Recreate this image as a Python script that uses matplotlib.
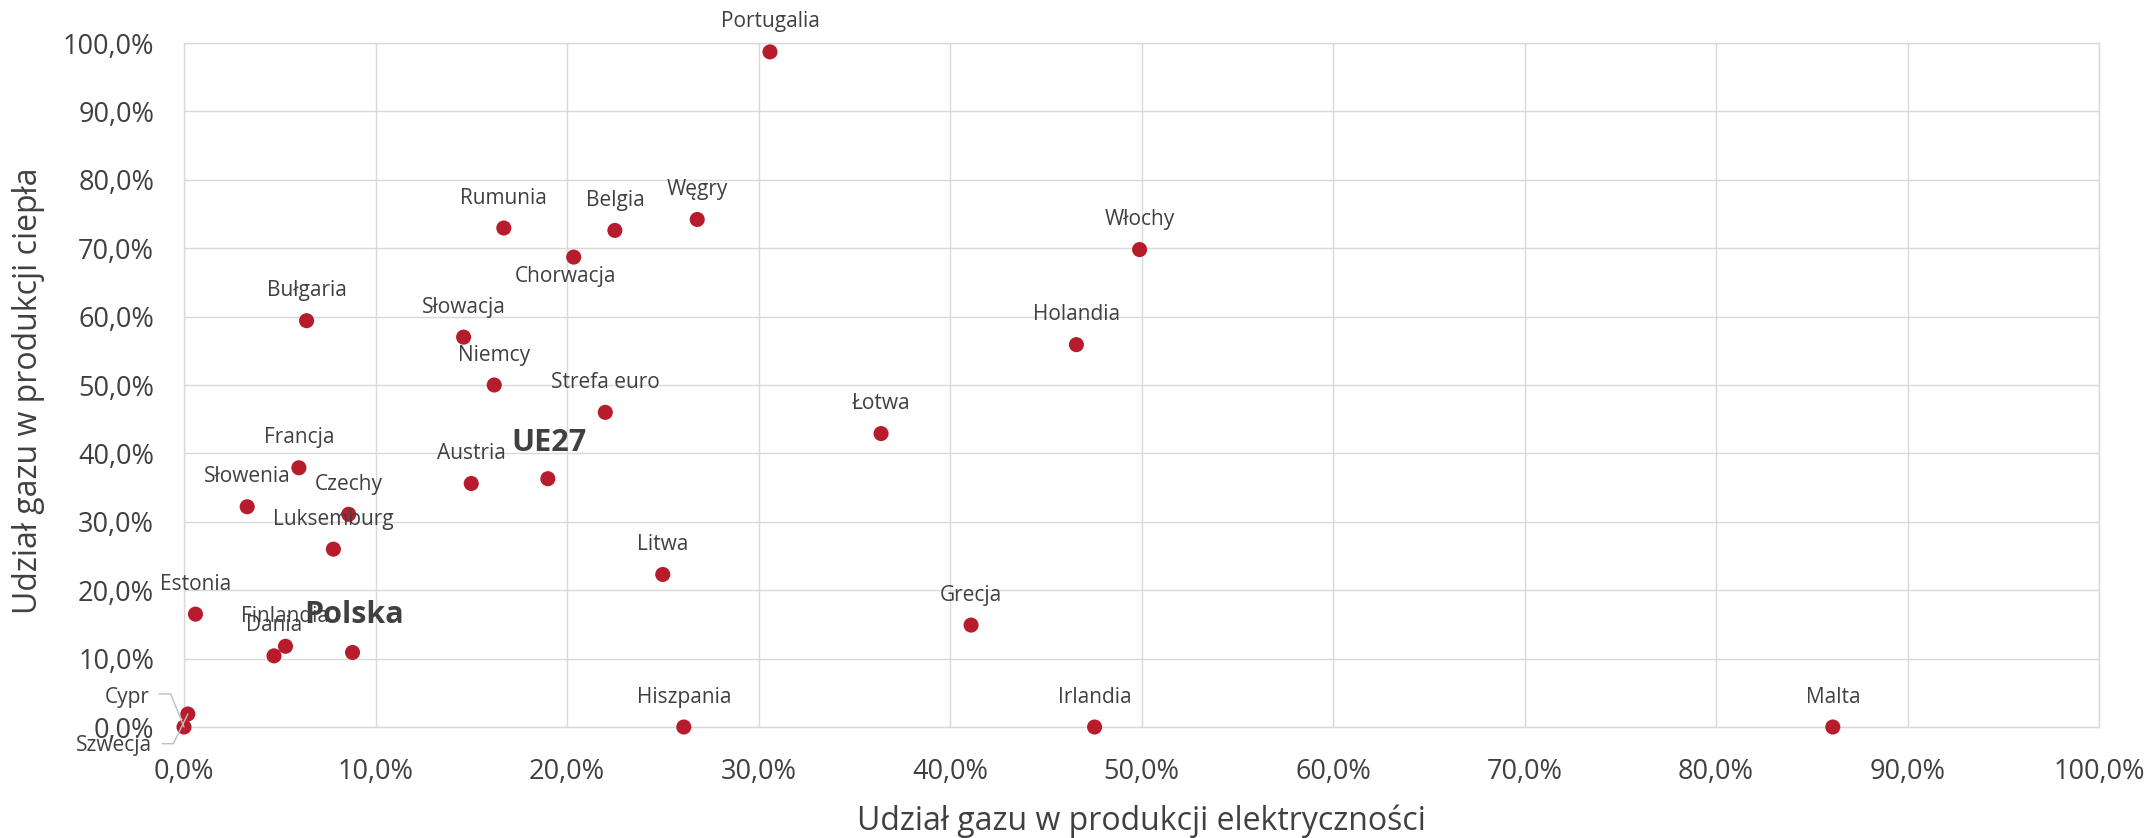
import matplotlib.pyplot as plt
from matplotlib.ticker import MultipleLocator, FuncFormatter

plt.rcParams['font.family'] = ['Open Sans', 'DejaVu Sans']

# share of gas in electricity (x) and in heat production (y), in %
countries = ['Portugalia', 'Rumunia', 'Belgia', 'Węgry', 'Chorwacja', 'Włochy',
             'Bułgaria', 'Słowacja', 'Holandia', 'Niemcy', 'Strefa euro', 'Łotwa',
             'Francja', 'Austria', 'UE27', 'Słowenia', 'Czechy', 'Luksemburg',
             'Litwa', 'Estonia', 'Grecja', 'Finlandia', 'Dania', 'Polska',
             'Szwecja', 'Cypr', 'Hiszpania', 'Irlandia', 'Malta']
elec = [30.6, 16.7, 22.5, 26.8, 20.35, 49.9,
        6.4, 14.6, 46.6, 16.2, 22.0, 36.4,
        6.0, 15.0, 19.0, 3.3, 8.6, 7.8,
        25.0, 0.6, 41.1, 5.3, 4.7, 8.8,
        0.2, 0.0, 26.1, 47.55, 86.1]
heat = [98.7, 72.95, 72.6, 74.2, 68.7, 69.8,
        59.4, 57.0, 55.9, 50.0, 46.0, 42.9,
        37.9, 35.6, 36.3, 32.2, 31.1, 26.0,
        22.3, 16.5, 14.9, 11.8, 10.4, 10.9,
        1.9, 0.0, 0.0, 0.0, 0.0]

bold_labels = ['Polska', 'UE27']

DOT = '#B71C2C'
TXT = '#404040'
GRID = '#D9D9D9'
LBL = 15

fig = plt.figure(figsize=(21.52, 8.38), dpi=100)
ax = fig.add_axes([184 / 2152, 111 / 838, 1915 / 2152, 684 / 838])

ax.set_xlim(0, 100)
ax.set_ylim(0, 100)
ax.xaxis.set_major_locator(MultipleLocator(10))
ax.yaxis.set_major_locator(MultipleLocator(10))
pct = FuncFormatter(lambda v, p: f'{v:.1f}%'.replace('.', ','))
ax.xaxis.set_major_formatter(pct)
ax.yaxis.set_major_formatter(pct)
ax.grid(True, color=GRID, linewidth=1.0, zorder=0)
ax.set_axisbelow(True)
for s in ax.spines.values():
    s.set_color(GRID)
    s.set_linewidth(1.0)
ax.tick_params(length=0, labelsize=19.5, labelcolor=TXT)
ax.tick_params(axis='x', pad=22.5)
ax.tick_params(axis='y', pad=21.5)

ax.scatter(elec, heat, s=118, color=DOT, edgecolor='none', zorder=3, clip_on=False)

# data labels
for name, x, y in zip(countries, elec, heat):
    if name == 'Chorwacja':
        ax.annotate(name, (x, y), xytext=(-5.8, -6.5), textcoords='offset points',
                    ha='center', va='top', fontsize=LBL, color=TXT)
    elif name in bold_labels:
        dy = 21.5 if name == 'Polska' else 20
        ax.annotate(name, (x, y), xytext=(1, dy), textcoords='offset points',
                    ha='center', va='baseline', fontsize=22, fontweight='bold', color=TXT)
    elif name == 'Cypr':
        ax.annotate(name, (x, y), xytext=(-24.5, 17), textcoords='offset points',
                    ha='right', va='baseline', fontsize=LBL, color=TXT)
        ax.annotate('', (x, y), xytext=(-18, 23.8), textcoords='offset points',
                    arrowprops=dict(arrowstyle='-', color='#BFBFBF', lw=1.0,
                                    shrinkA=0, shrinkB=0,
                                    connectionstyle='angle,angleA=0,angleB=112'))
    elif name == 'Szwecja':
        ax.annotate(name, (x, y), xytext=(-25.7, -26.9), textcoords='offset points',
                    ha='right', va='baseline', fontsize=LBL, color=TXT)
        ax.annotate('', (x, y), xytext=(-18.5, -21.4), textcoords='offset points',
                    arrowprops=dict(arrowstyle='-', color='#BFBFBF', lw=1.0,
                                    shrinkA=0, shrinkB=0,
                                    connectionstyle='angle,angleA=0,angleB=64'))
    else:
        ax.annotate(name, (x, y), xytext=(0, 17.6), textcoords='offset points',
                    ha='center', va='baseline', fontsize=LBL, color=TXT)

fig.text(1141.5 / 2152, 8 / 838, 'Udział gazu w produkcji elektryczności',
         ha='center', va='baseline', fontsize=23, color=TXT)
fig.text(29 / 2152, 447 / 838, 'Udział gazu w produkcji ciepła',
         ha='center', va='center', rotation=90, fontsize=23, color=TXT)

fig.savefig('out.png', dpi=100, facecolor='white')
